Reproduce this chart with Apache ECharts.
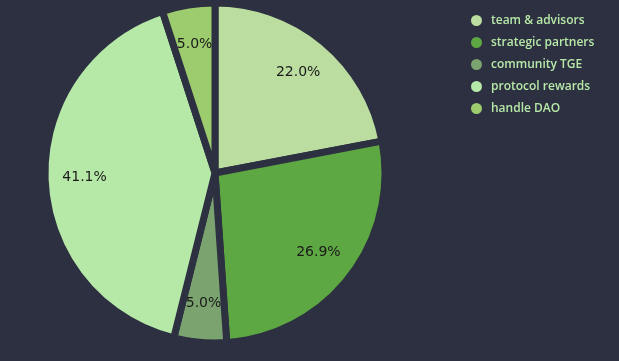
<!DOCTYPE html>
<html><head><meta charset="utf-8">
<script src="https://cdn.jsdelivr.net/npm/echarts@6/dist/echarts.min.js"></script>
<style>html,body{margin:0;padding:0;background:#2d3040}#c{width:619px;height:361px}</style>
</head><body><div id="c"></div>
<script>
const categories = ['team & advisors','strategic partners','community TGE','protocol rewards','handle DAO'];
const values = [22.0, 26.9, 5.0, 41.1, 5.0];
const colors = ['#bcdda0','#5ea843','#7ba36f','#b6e8a8','#9ccc6e'];
const chart = echarts.init(document.getElementById('c'));
const data = categories.map((n,i)=>({name:n,value:values[i]}));
chart.setOption({
  backgroundColor:'#2d3040',
  color: colors,
  legend:{
    orient:'vertical', left:464, top:8, itemGap:7, itemWidth:13, itemHeight:13, icon:'circle',
    data: categories,
    textStyle:{color:'#b6e8a8', fontSize:12, fontWeight:600, fontFamily:'Open Sans', padding:[0,0,0,3]}
  },
  series:[{
    type:'pie', center:[215,173], radius:[0,170], startAngle:90, clockwise:true,
    data: data,
    itemStyle:{borderColor:'#2d3040', borderWidth:7},
    label:{show:false},
    labelLine:{show:false}
  },{
    type:'pie', center:[215,173], radius:[85,170], startAngle:90, clockwise:true,
    data: data, silent:true,
    itemStyle:{color:'transparent', borderWidth:0},
    label:{show:true, position:'inside', formatter:p=>p.value.toFixed(1)+'%', color:'#1a1a1a', fontSize:14, fontFamily:'DejaVu Sans'},
    labelLine:{show:false}
  }]
});
</script></body></html>
